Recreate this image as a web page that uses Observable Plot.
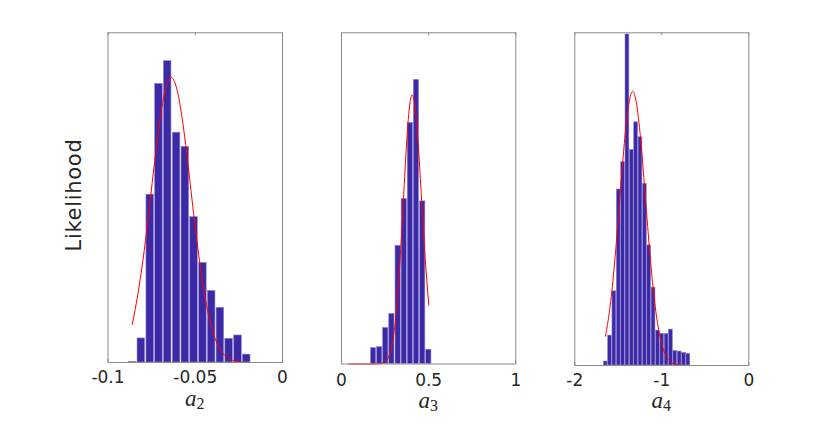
<!DOCTYPE html>
<html>
<head>
<meta charset="utf-8">
<script src="https://cdn.jsdelivr.net/npm/d3@7"></script>
<script src="https://cdn.jsdelivr.net/npm/@observablehq/plot@0.6"></script>
<style>
  html, body { margin: 0; padding: 0; background: #fff; }
  #fig { position: relative; width: 830px; height: 441px; overflow: hidden; background: #fff; }
  #fig svg { position: absolute; left: 0; top: 0; }
</style>
</head>
<body>
<div id="fig"></div>
<script>
// ---------- data ----------
// panel a2
const a2Centers = [-0.0859, -0.0809, -0.0758, -0.0708, -0.0658, -0.0607, -0.0557, -0.0507, -0.0456, -0.0406, -0.0356, -0.0306, -0.0255, -0.0205];
const a2Heights = [0.002, 0.073, 0.509, 0.845, 0.914, 0.697, 0.654, 0.441, 0.302, 0.217, 0.166, 0.072, 0.082, 0.024];
const a2CurveX = [-0.0861, -0.083, -0.080, -0.077, -0.074, -0.071, -0.068, -0.0638, -0.060, -0.057, -0.054, -0.051, -0.048, -0.045, -0.042, -0.039, -0.036, -0.033, -0.030, -0.025, -0.020, -0.006];
const a2CurveY = [0.115, 0.204, 0.309, 0.437, 0.576, 0.706, 0.807, 0.865, 0.817, 0.722, 0.594, 0.455, 0.326, 0.217, 0.135, 0.078, 0.042, 0.021, 0.010, 0.002, 0, 0];
const a2Ticks = [-0.1, -0.05, 0];
const a2TickLabels = ["-0.1", "-0.05", "0"];

// panel a3
const a3Centers = [0.184, 0.219, 0.254, 0.289, 0.325, 0.360, 0.395, 0.430, 0.466, 0.501];
const a3Heights = [0.048, 0.051, 0.109, 0.151, 0.357, 0.498, 0.728, 0.858, 0.491, 0.043];
const a3CurveX = [0.04, 0.20, 0.22, 0.24, 0.26, 0.28, 0.30, 0.32, 0.34, 0.36, 0.38, 0.395, 0.405, 0.42, 0.44, 0.46, 0.48, 0.501];
const a3CurveY = [0, 0, 0.001, 0.004, 0.012, 0.036, 0.090, 0.192, 0.349, 0.542, 0.717, 0.796, 0.8125, 0.783, 0.664, 0.493, 0.321, 0.177];
const a3Ticks = [0, 0.5, 1];
const a3TickLabels = ["0", "0.5", "1"];

// panel a4
const a4Centers = [-1.645, -1.595, -1.545, -1.495, -1.445, -1.395, -1.345, -1.295, -1.245, -1.195, -1.145, -1.095, -1.045, -0.995, -0.945, -0.895, -0.845, -0.795, -0.745, -0.695];
const a4Heights = [0.012, 0.090, 0.223, 0.529, 0.611, 0.995, 0.648, 0.731, 0.686, 0.546, 0.361, 0.234, 0.105, 0.095, 0.095, 0.108, 0.044, 0.042, 0.038, 0.035];
const a4CurveX = [-1.648, -1.60, -1.55, -1.50, -1.45, -1.40, -1.335, -1.30, -1.25, -1.20, -1.15, -1.10, -1.05, -1.00, -0.95, -0.90, -0.85, -0.80, -0.75, -0.19];
const a4CurveY = [0.088, 0.166, 0.287, 0.443, 0.609, 0.748, 0.824, 0.801, 0.699, 0.544, 0.377, 0.233, 0.129, 0.064, 0.028, 0.011, 0.004, 0.001, 0, 0];
const a4Ticks = [-2, -1, 0];
const a4TickLabels = ["-2", "-1", "0"];

const yLabel = "Likelihood";
const xLabelSub = ["2", "3", "4"];

// ---------- layout / style ----------
const W = 830, H = 441;
const BAR_FILL = "#3c29a6", BAR_EDGE = "#9088d2", CURVE = "#ff0000";
const FRAME = "#8a8a8a", TEXT = "#262626";

const panels = [
  {centers: a2Centers, heights: a2Heights, cx: a2CurveX, cy: a2CurveY, ticks: a2Ticks, labels: a2TickLabels,
   bin: 0.00503, inset: 0.6, domain: [-0.1, 0], left: 107.5, right: 282, top: 32.3, bottom: 362, pad: 8, labBase: 405.5, sub: xLabelSub[0]},
  {centers: a3Centers, heights: a3Heights, cx: a3CurveX, cy: a3CurveY, ticks: a3Ticks, labels: a3TickLabels,
   bin: 0.0353, inset: 0.45, domain: [0, 1], left: 341, right: 515.3, top: 32.3, bottom: 363.5, pad: 9.5, labBase: 408.3, sub: xLabelSub[1]},
  {centers: a4Centers, heights: a4Heights, cx: a4CurveX, cy: a4CurveY, ticks: a4Ticks, labels: a4TickLabels,
   bin: 0.05, inset: 0.25, domain: [-2, 0], left: 574.3, right: 748.3, top: 32.3, bottom: 365, pad: 8.3, labBase: 408.3, sub: xLabelSub[2]}
];

const fig = document.getElementById("fig");

panels.forEach((p, k) => {
  const bars = p.centers.map((c, i) => ({x1: c - p.bin / 2, x2: c + p.bin / 2, y: p.heights[i]}));
  const curve = p.cx.map((x, i) => ({x, y: p.cy[i]}));
  const labelMap = new Map(p.ticks.map((t, i) => [t, p.labels[i]]));
  const frameH = p.bottom - p.top;

  const svg = Plot.plot({
    width: W, height: H,
    marginLeft: p.left, marginRight: W - p.right, marginTop: p.top, marginBottom: H - p.bottom,
    x: {domain: p.domain, axis: null},
    y: {domain: [0, 1], axis: null},
    style: {background: "transparent", fontFamily: "DejaVu Sans", fontSize: "17px", color: TEXT, overflow: "visible"},
    marks: [
      Plot.tickX(p.ticks, {x: d => d, stroke: FRAME, strokeWidth: 1, insetBottom: frameH - 3}),
      Plot.tickX(p.ticks, {x: d => d, stroke: FRAME, strokeWidth: 1, insetTop: frameH - 3}),
      Plot.rectY(bars, {x1: "x1", x2: "x2", y: "y", fill: BAR_FILL, stroke: BAR_EDGE, strokeWidth: 0.6,
                        insetLeft: p.inset, insetRight: p.inset}),
      Plot.line(curve, {x: "x", y: "y", stroke: CURVE, strokeWidth: 1, curve: "monotone-x"}),
      Plot.frame({stroke: FRAME, strokeWidth: 1}),
      Plot.axisX(p.ticks, {tickSize: 0, tickPadding: p.pad, tickFormat: d => labelMap.get(d),
                           fontSize: 17, fill: TEXT, label: null})
    ]
  });
  fig.appendChild(svg);

  // x label: italic a with subscript index
  const t = d3.select(svg).append("text")
    .attr("x", (p.left + p.right) / 2)
    .attr("y", p.labBase)
    .attr("text-anchor", "middle")
    .attr("fill", TEXT)
    .attr("font-family", "'Liberation Serif', serif");
  t.append("tspan").attr("font-style", "italic").attr("font-size", 23).text("a");
  t.append("tspan").attr("font-size", 16).attr("dy", 3).text(p.sub);

  if (k === 0) {
    d3.select(svg).append("text")
      .attr("transform", "translate(81,195) rotate(-90)")
      .attr("text-anchor", "middle")
      .attr("fill", TEXT)
      .attr("font-family", "'DejaVu Sans', sans-serif")
      .attr("font-size", 21)
      .attr("letter-spacing", 0.7)
      .text(yLabel);
  }
});
</script>
</body>
</html>
